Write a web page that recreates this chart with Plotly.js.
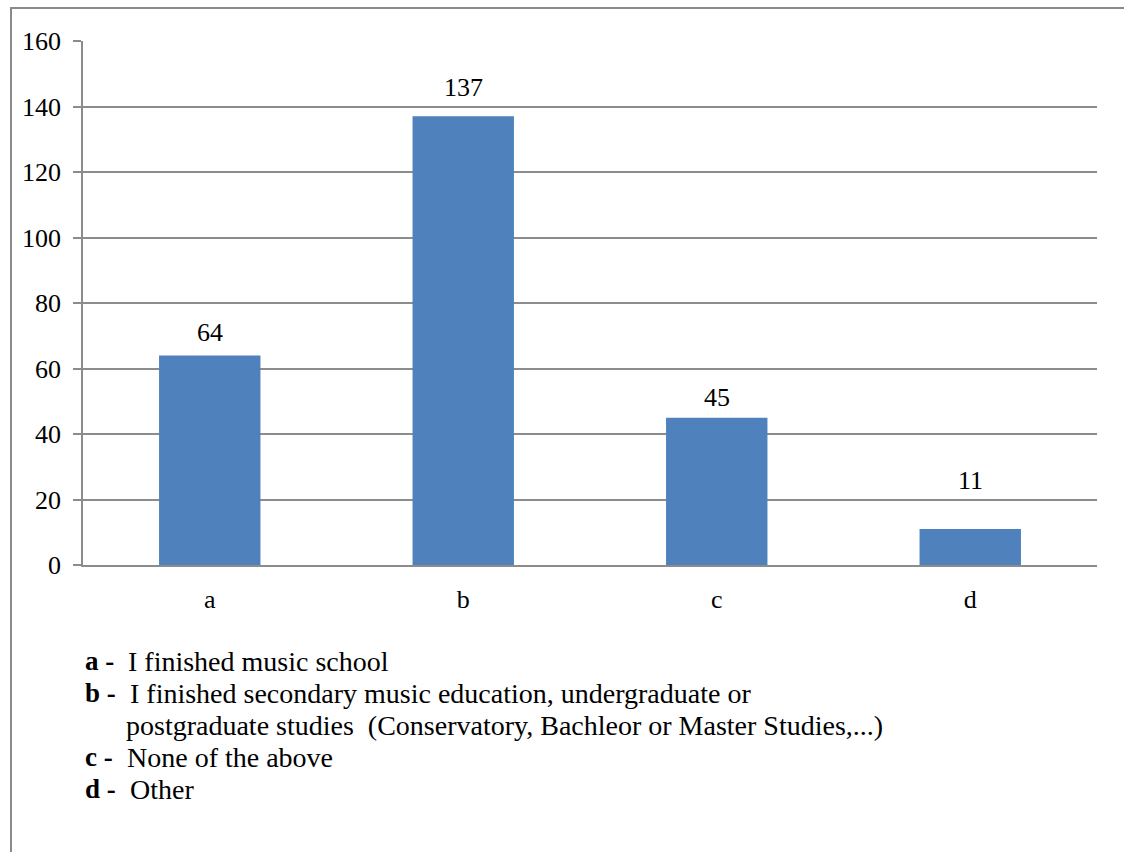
<!DOCTYPE html>
<html>
<head>
<meta charset="utf-8">
<script src="https://cdn.plot.ly/plotly-3.0.1.min.js"></script>
</head>
<body style="margin:0;background:#fff">
<div id="chart" style="width:1124px;height:852px"></div>
<script>
var categories = ["a", "b", "c", "d"];
var values = [64, 137, 45, 11];
var yTicks = [0, 20, 40, 60, 80, 100, 120, 140, 160];
var legendKeys = ["a -", "b -", "", "c -", "d -"];
var legendTexts = [
  "I finished music school",
  "I finished secondary music education, undergraduate or",
  "postgraduate studies  (Conservatory, Bachleor or Master Studies,...)",
  "None of the above",
  "Other"
];

var FONT = "Liberation Serif";
var GRID = "#8c8c8c";

var trace = {
  type: "bar",
  x: categories,
  y: values,
  marker: {color: "#4f81bd", line: {width: 0}},
  width: 0.4,
  hoverinfo: "x+y"
};

var annotations = [];
var labelShifts = [6, 12, 4, 32];
for (var i = 0; i < categories.length; i++) {
  annotations.push({
    x: categories[i], y: values[i], xref: "x", yref: "y",
    text: String(values[i]), showarrow: false,
    yanchor: "bottom", xanchor: "center", yshift: labelShifts[i],
    font: {family: FONT, size: 26, color: "#000"}
  });
}

// legend lines (pixel rows converted to paper coordinates)
var plotTop = 41, plotH = 524, plotL = 83, plotW = 1014;
function py(p) { return (plotTop + plotH - p) / plotH; }
function px(p) { return (p - plotL) / plotW; }
var rowY = [661, 693, 725, 757, 789];
var textX = [126, 128, 124, 125, 128];
for (var j = 0; j < legendTexts.length; j++) {
  if (legendKeys[j]) {
    annotations.push({
      x: px(83), y: py(rowY[j]), xref: "paper", yref: "paper",
      text: "<b>" + legendKeys[j] + "</b>", showarrow: false,
      xanchor: "left", yanchor: "middle",
      font: {family: FONT, size: 27, color: "#000"}
    });
  }
  annotations.push({
    x: px(textX[j]), y: py(rowY[j]), xref: "paper", yref: "paper",
    text: legendTexts[j], showarrow: false,
    xanchor: "left", yanchor: "middle",
    font: {family: FONT, size: 28, color: "#000"}
  });
}

var layout = {
  width: 1124, height: 852,
  margin: {l: plotL, r: 1124 - plotL - plotW, t: plotTop, b: 852 - plotTop - plotH, pad: 0},
  paper_bgcolor: "#ffffff",
  plot_bgcolor: "#ffffff",
  showlegend: false,
  bargap: 0.6,
  font: {family: FONT, size: 26, color: "#000"},
  xaxis: {
    type: "category",
    showgrid: false,
    showline: true, linecolor: GRID, linewidth: 1.5,
    ticks: "", ticklabelstandoff: 10,
    tickfont: {family: FONT, size: 26, color: "#000"},
    fixedrange: true
  },
  yaxis: {
    range: [0, 160],
    tickvals: yTicks,
    ticktext: yTicks.map(String),
    showgrid: true, gridcolor: GRID, gridwidth: 1.5,
    zeroline: false,
    showline: true, linecolor: GRID, linewidth: 1.5,
    ticks: "outside", ticklen: 8, tickcolor: GRID, tickwidth: 1.5,
    ticklabelstandoff: 7,
    tickfont: {family: FONT, size: 26, color: "#000"},
    fixedrange: true
  },
  annotations: annotations,
  shapes: [{
    type: "rect", xref: "paper", yref: "paper",
    x0: px(11), x1: px(1130), y0: py(880), y1: py(8),
    line: {color: "#8a8a8a", width: 2}, fillcolor: "rgba(0,0,0,0)",
    layer: "below"
  }]
};

Plotly.newPlot("chart", [trace], layout, {displayModeBar: false});
</script>
</body>
</html>
